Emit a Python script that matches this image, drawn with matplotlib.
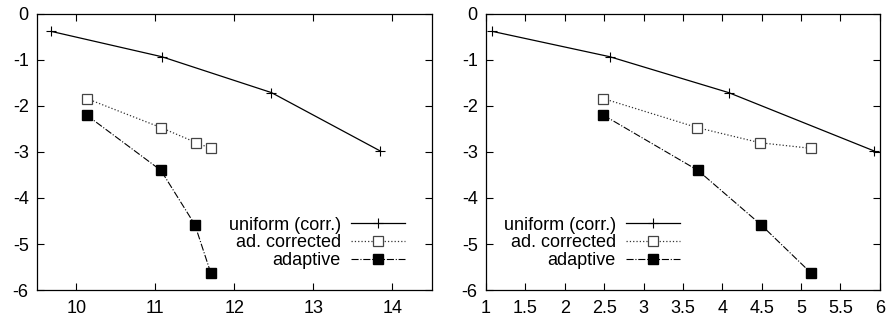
import matplotlib
matplotlib.use("Agg")
import matplotlib.pyplot as plt

plt.rcParams['font.family'] = ['Liberation Sans', 'DejaVu Sans']
plt.rcParams['axes.unicode_minus'] = False

# shared y values
uni_y = [-0.38, -0.93, -1.71, -2.98]
corr_y = [-1.84, -2.47, -2.80, -2.92]
adap_y = [-2.20, -3.40, -4.58, -5.62]

# left panel x values
uni_x1 = [9.68, 11.08, 12.47, 13.85]
corr_x1 = [10.13, 11.07, 11.52, 11.70]
adap_x1 = [10.13, 11.07, 11.50, 11.70]

# right panel x values
uni_x2 = [1.08, 2.57, 4.08, 5.93]
corr_x2 = [2.49, 3.68, 4.48, 5.12]
adap_x2 = [2.49, 3.69, 4.49, 5.12]

labels = ['uniform (corr.)', 'ad. corrected', 'adaptive']
fs = 13

fig = plt.figure(figsize=(8.91, 3.23), dpi=100)
ax1 = fig.add_axes([0.0415, 0.102, 0.443, 0.855])
ax2 = fig.add_axes([0.5455, 0.102, 0.442, 0.855])


def draw(ax, ux, cx, axx):
    ax.plot(ux, uni_y, '-', color='black', lw=0.9, marker='+', ms=7, mew=0.8,
            label=labels[0])
    ax.plot(cx, corr_y, ':', color='#333333', lw=0.9, marker='s', ms=6.5,
            mfc='white', mec='#444444', mew=0.9, label=labels[1])
    ax.plot(axx, adap_y, '-.', color='black', lw=0.8, marker='s', ms=6.5,
            mfc='black', mec='black', label=labels[2])
    ax.set_ylim(-6, 0)
    ax.set_yticks([0, -1, -2, -3, -4, -5, -6])
    ax.tick_params(direction='in', top=True, right=True, labelsize=fs,
                   length=5, width=0.8)
    ax.tick_params(axis='x', pad=7)
    ax.tick_params(axis='y', pad=6)
    for s in ax.spines.values():
        s.set_linewidth(0.9)


draw(ax1, uni_x1, corr_x1, adap_x1)
ax1.set_xlim(9.5, 14.5)
ax1.set_xticks([10, 11, 12, 13, 14])
ax1.legend(loc='lower right', frameon=False, markerfirst=False, fontsize=fs,
           handlelength=3.0, labelspacing=0.05, borderaxespad=0.0, borderpad=0.0,
           handletextpad=0.55, bbox_to_anchor=(0.932, 0.075))

draw(ax2, uni_x2, corr_x2, adap_x2)
ax2.set_xlim(1, 6)
ax2.set_xticks([1, 1.5, 2, 2.5, 3, 3.5, 4, 4.5, 5, 5.5, 6])
ax2.set_xticklabels(['1', '1.5', '2', '2.5', '3', '3.5', '4', '4.5', '5', '5.5', '6'])
ax2.legend(loc='lower right', frameon=False, markerfirst=False, fontsize=fs,
           handlelength=3.0, labelspacing=0.05, borderaxespad=0.0, borderpad=0.0,
           handletextpad=0.55, bbox_to_anchor=(0.492, 0.075))

fig.savefig('out.png', dpi=100)
